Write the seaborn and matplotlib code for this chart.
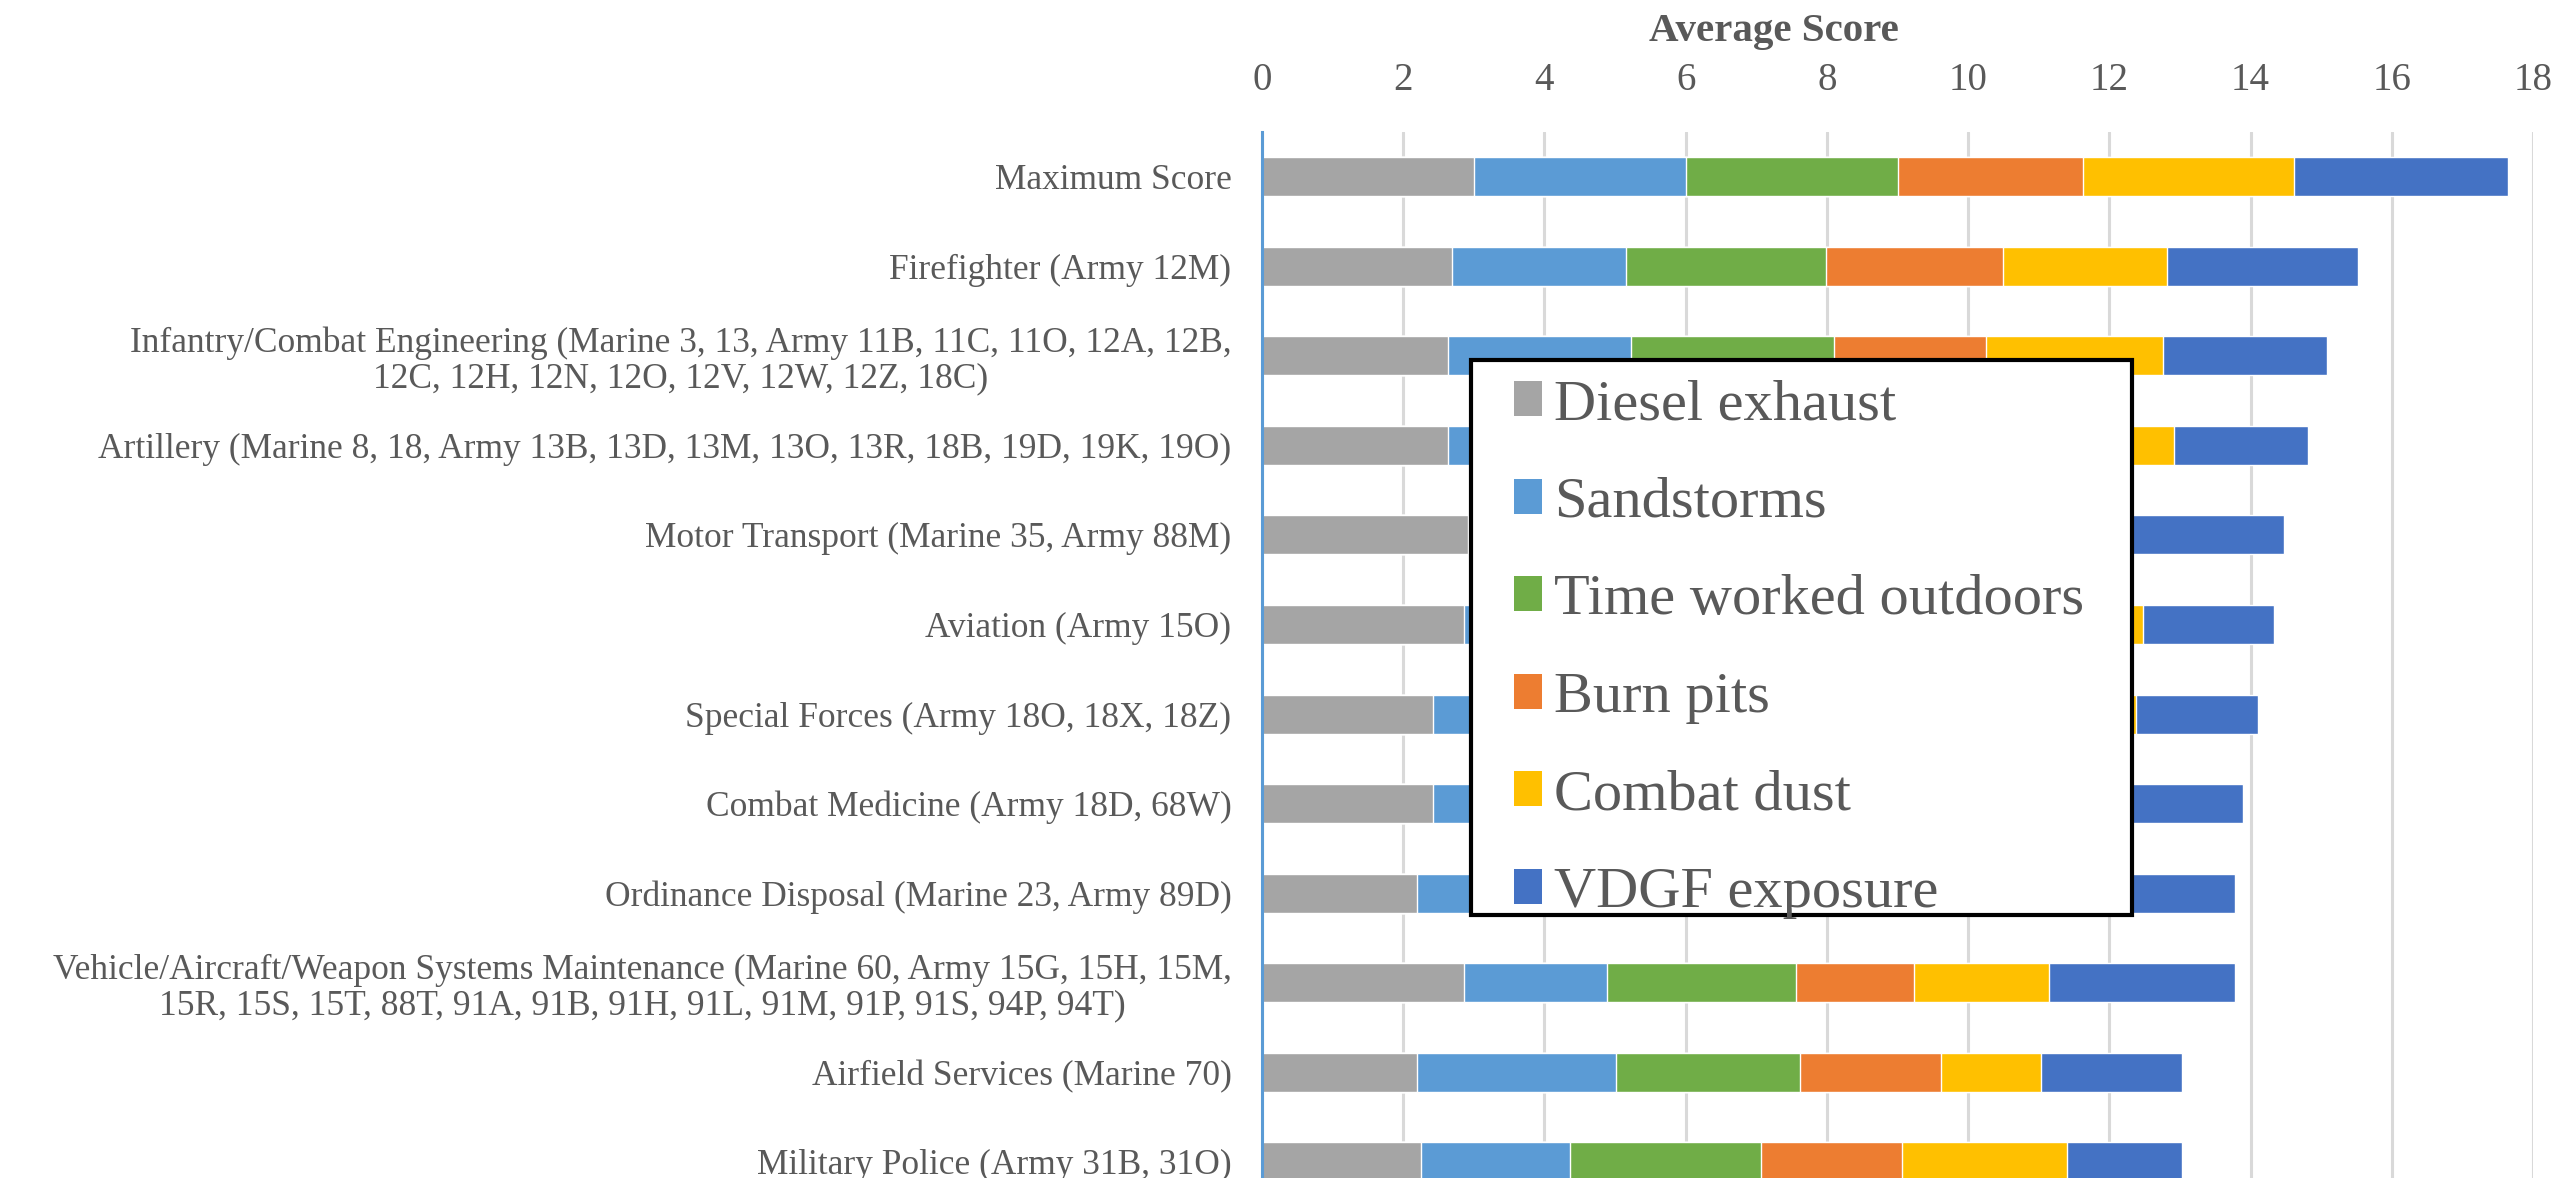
import numpy as np
import pandas as pd
import matplotlib
matplotlib.use("Agg")
import matplotlib.pyplot as plt
from matplotlib.patches import Patch, Rectangle
import seaborn as sns

# occupational categories (top to bottom)
categories = [
    "Maximum Score",
    "Firefighter (Army 12M)",
    "Infantry/Combat Engineering (Marine 3, 13, Army 11B, 11C, 11O, 12A, 12B,\n12C, 12H, 12N, 12O, 12V, 12W, 12Z, 18C)",
    "Artillery (Marine 8, 18, Army 13B, 13D, 13M, 13O, 13R, 18B, 19D, 19K, 19O)",
    "Motor Transport (Marine 35, Army 88M)",
    "Aviation (Army 15O)",
    "Special Forces (Army 18O, 18X, 18Z)",
    "Combat Medicine (Army 18D, 68W)",
    "Ordinance Disposal (Marine 23, Army 89D)",
    "Vehicle/Aircraft/Weapon Systems Maintenance (Marine 60, Army 15G, 15H, 15M,\n15R, 15S, 15T, 88T, 91A, 91B, 91H, 91L, 91M, 91P, 91S, 94P, 94T)",
    "Airfield Services (Marine 70)",
    "Military Police (Army 31B, 31O)",
]

diesel_exhaust = [3.00, 2.69, 2.63, 2.63, 2.92, 2.86, 2.42, 2.42, 2.20, 2.86, 2.20, 2.25]
sandstorms     = [3.00, 2.47, 2.60, 2.50, 2.40, 2.50, 2.50, 2.50, 2.60, 2.02, 2.82, 2.11]
time_outdoors  = [3.00, 2.83, 2.87, 2.80, 2.70, 2.70, 2.90, 2.80, 2.70, 2.68, 2.60, 2.71]
burn_pits      = [2.62, 2.50, 2.16, 2.30, 2.20, 2.30, 2.40, 2.30, 2.30, 1.68, 1.99, 2.00]
combat_dust    = [3.00, 2.32, 2.50, 2.69, 2.10, 2.12, 2.16, 2.20, 2.30, 1.90, 1.42, 2.33]
vdgf_exposure  = [3.03, 2.71, 2.32, 1.89, 2.16, 1.85, 1.72, 1.67, 1.68, 2.64, 2.00, 1.63]

series_names = ["Diesel exhaust", "Sandstorms", "Time worked outdoors",
                "Burn pits", "Combat dust", "VDGF exposure"]
series_values = [diesel_exhaust, sandstorms, time_outdoors,
                 burn_pits, combat_dust, vdgf_exposure]
colors = ["#A5A5A5", "#5B9BD5", "#70AD47", "#ED7D31", "#FFC000", "#4472C4"]

df = pd.DataFrame(dict(zip(series_names, series_values)), index=categories)
cum = df.cumsum(axis=1)

sns.set_style("white")
plt.rcParams["font.family"] = ["Liberation Serif", "DejaVu Serif"]

fig = plt.figure(figsize=(25.54, 11.78), dpi=100)
ax = fig.add_axes([1262 / 2554, 0.0, 1271 / 2554, 1 - 132 / 1178])

# stacked bars: draw cumulative totals from the outermost segment inwards
for name, color in reversed(list(zip(series_names, colors))):
    sns.barplot(x=cum[name].values, y=categories, orient="h", color=color,
                saturation=1, width=0.435, ax=ax, zorder=2)

ax.set_xlim(0, 18)
ax.set_ylim(-0.5 + 1046 / 89.55, -0.5)
ax.set_xticks(np.arange(0, 19, 2))
ax.xaxis.tick_top()
ax.xaxis.set_label_position("top")
ax.grid(axis="x", color="#D9D9D9", linewidth=2.2, zorder=0)
ax.set_axisbelow(True)
ax.set_ylabel("")
ax.set_xlabel("Average Score", fontsize=29.5, fontweight="bold", color="#595959")
ax.xaxis.set_label_coords(0.403, 1.096)
ax.xaxis.label.set_va("center")

ax.tick_params(axis="x", length=0, pad=24, labelsize=28, labelcolor="#595959")
ax.tick_params(axis="y", length=0, pad=22, labelsize=25.5, labelcolor="#595959")
for lbl in ax.get_yticklabels():
    lbl.set_multialignment("center")
    lbl.set_linespacing(1.1)

for s in ["top", "right", "bottom"]:
    ax.spines[s].set_visible(False)
ax.spines["left"].set_color("#5B9BD5")
ax.spines["left"].set_linewidth(2.2)
ax.spines["left"].set_zorder(3)

# legend box overlapping the bars
fig.patches.append(Rectangle((1471 / 2554, 1 - 915 / 1178), 661 / 2554, 555 / 1178,
                             transform=fig.transFigure, facecolor="white",
                             edgecolor="black", linewidth=3, zorder=4))
handles = [Patch(facecolor=c, edgecolor="none", label=n) for n, c in zip(series_names, colors)]
fig.legend(handles=handles, loc="center left", bbox_to_anchor=(1514 / 2554, 1 - 649 / 1178),
           frameon=False, borderpad=0, borderaxespad=0, fontsize=42,
           handlelength=0.48, handleheight=0.55, handletextpad=0.2,
           labelspacing=0.78, labelcolor="#595959")

fig.savefig("out.png", dpi=100)
